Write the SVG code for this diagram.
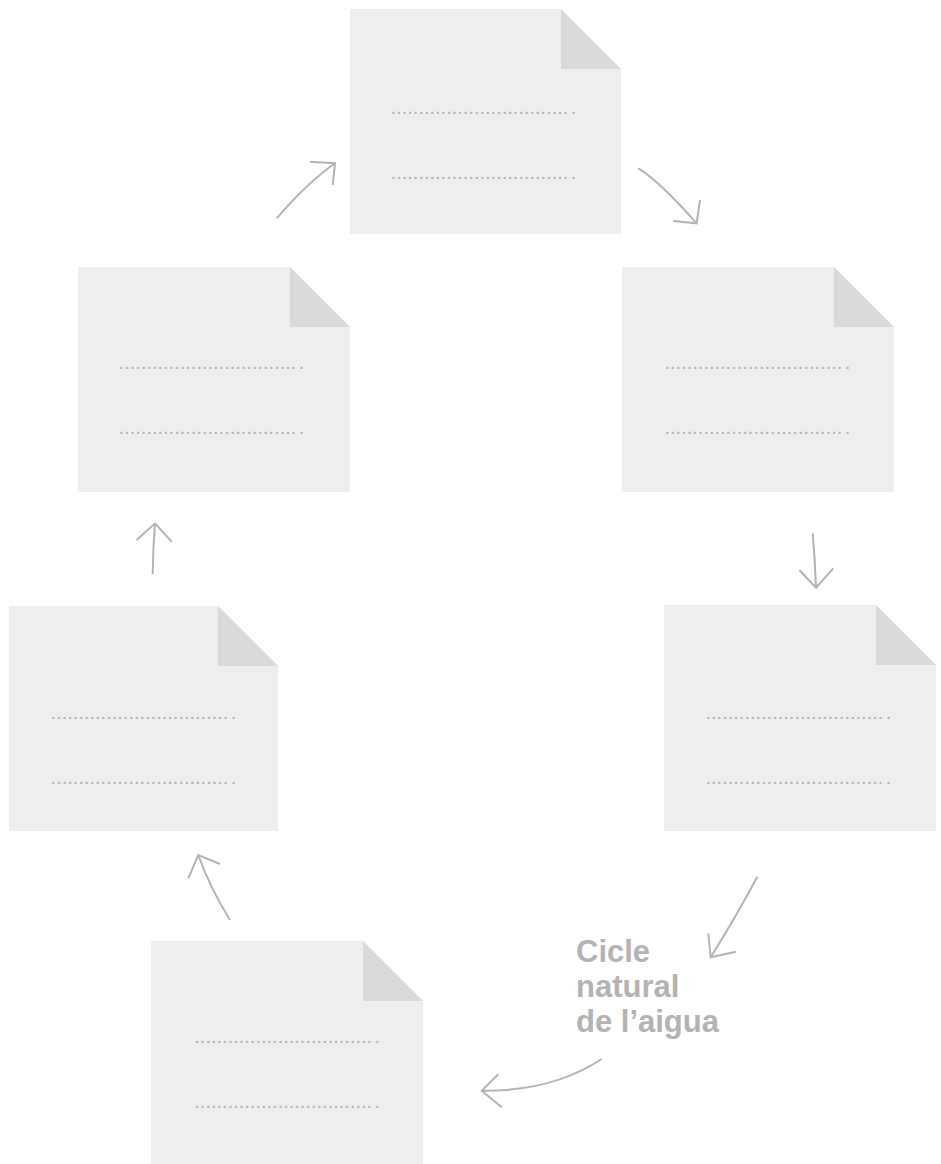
<svg xmlns="http://www.w3.org/2000/svg" width="941" height="1164" viewBox="0 0 941 1164">
<style>
.page{fill:#eeeeee}
.fold{fill:#d9d9d9}
.dots{font-family:"Liberation Sans",Arial,sans-serif;font-size:20px;fill:#b0b0b0}
.conn{fill:none;stroke:#b3b3b3;stroke-width:2;stroke-linecap:butt;stroke-linejoin:miter}
.title{font-family:"Liberation Sans",Arial,Helvetica,sans-serif;font-size:31px;font-weight:bold;fill:#b3b3b3}
</style>
<rect width="941" height="1164" fill="#ffffff"/>
<g id="node-top">
<polygon class="page" points="350,9 561,9 621,69 621,234 350,234"/>
<polygon class="fold" points="561,9 561,69 621,69"/>
<text class="dots" x="390.6" y="113.5">................................<tspan dx="2.4">.</tspan></text>
<text class="dots" x="390.6" y="178.5">................................<tspan dx="2.4">.</tspan></text>
</g>
<g id="node-right-top">
<polygon class="page" points="622,267 834,267 894,327 894,492 622,492"/>
<polygon class="fold" points="834,267 834,327 894,327"/>
<text class="dots" x="664.5" y="368.5">................................<tspan dx="2.4">.</tspan></text>
<text class="dots" x="664.5" y="434">................................<tspan dx="2.4">.</tspan></text>
</g>
<g id="node-right-mid">
<polygon class="page" points="664,605 876,605 936,665 936,831 664,831"/>
<polygon class="fold" points="876,605 876,665 936,665"/>
<text class="dots" x="705.5" y="718.5">................................<tspan dx="2.4">.</tspan></text>
<text class="dots" x="705.5" y="783.5">................................<tspan dx="2.4">.</tspan></text>
</g>
<g id="node-bottom">
<polygon class="page" points="151,941 363,941 423,1001 423,1166 151,1166"/>
<polygon class="fold" points="363,941 363,1001 423,1001"/>
<text class="dots" x="194.3" y="1043">................................<tspan dx="2.4">.</tspan></text>
<text class="dots" x="194.3" y="1108">................................<tspan dx="2.4">.</tspan></text>
</g>
<g id="node-left-mid">
<polygon class="page" points="9,606 218,606 278,666 278,831 9,831"/>
<polygon class="fold" points="218,606 218,666 278,666"/>
<text class="dots" x="50.6" y="719">................................<tspan dx="2.4">.</tspan></text>
<text class="dots" x="50.6" y="784">................................<tspan dx="2.4">.</tspan></text>
</g>
<g id="node-left-top">
<polygon class="page" points="78,267 290,267 350,327 350,492 78,492"/>
<polygon class="fold" points="290,267 290,327 350,327"/>
<text class="dots" x="118.6" y="368.5">................................<tspan dx="2.4">.</tspan></text>
<text class="dots" x="118.6" y="433.5">................................<tspan dx="2.4">.</tspan></text>
</g>
<g id="label">
<text class="title" x="576" y="962">Cicle</text>
<text class="title" x="576" y="997">natural</text>
<text class="title" x="576" y="1031.5">de l’aigua</text>
</g>
<g id="connectors">
<path class="conn" d="M276.7,218.3 Q307.6,182.6 335,163.3"/>
<path class="conn" d="M310,161.7 L335,163.3 L332.7,185"/>
<path class="conn" d="M638.3,168.3 Q659.1,180.8 696.7,223.3"/>
<path class="conn" d="M673.3,221 L696.7,223.3 L700,200"/>
<path class="conn" d="M812.7,533.3 Q815,560 816,587.7"/>
<path class="conn" d="M799.3,570 L816,587.7 L833.3,568.3"/>
<path class="conn" d="M757.3,876.7 Q737,915 710.7,957.3"/>
<path class="conn" d="M708.3,933.3 L710.7,957.3 L736,951.7"/>
<path class="conn" d="M601.7,1059 Q551.7,1091.7 481.7,1090.7"/>
<path class="conn" d="M498.3,1074.3 L481.7,1090.7 L501.7,1107.3"/>
<path class="conn" d="M230,920 Q209,886 198.3,855"/>
<path class="conn" d="M188.3,878.3 L198.3,855 L220,864"/>
<path class="conn" d="M152.7,574.3 Q153,548 155,523.3"/>
<path class="conn" d="M136.7,540 L155,523.3 L171.7,541.7"/>
</g>
</svg>
